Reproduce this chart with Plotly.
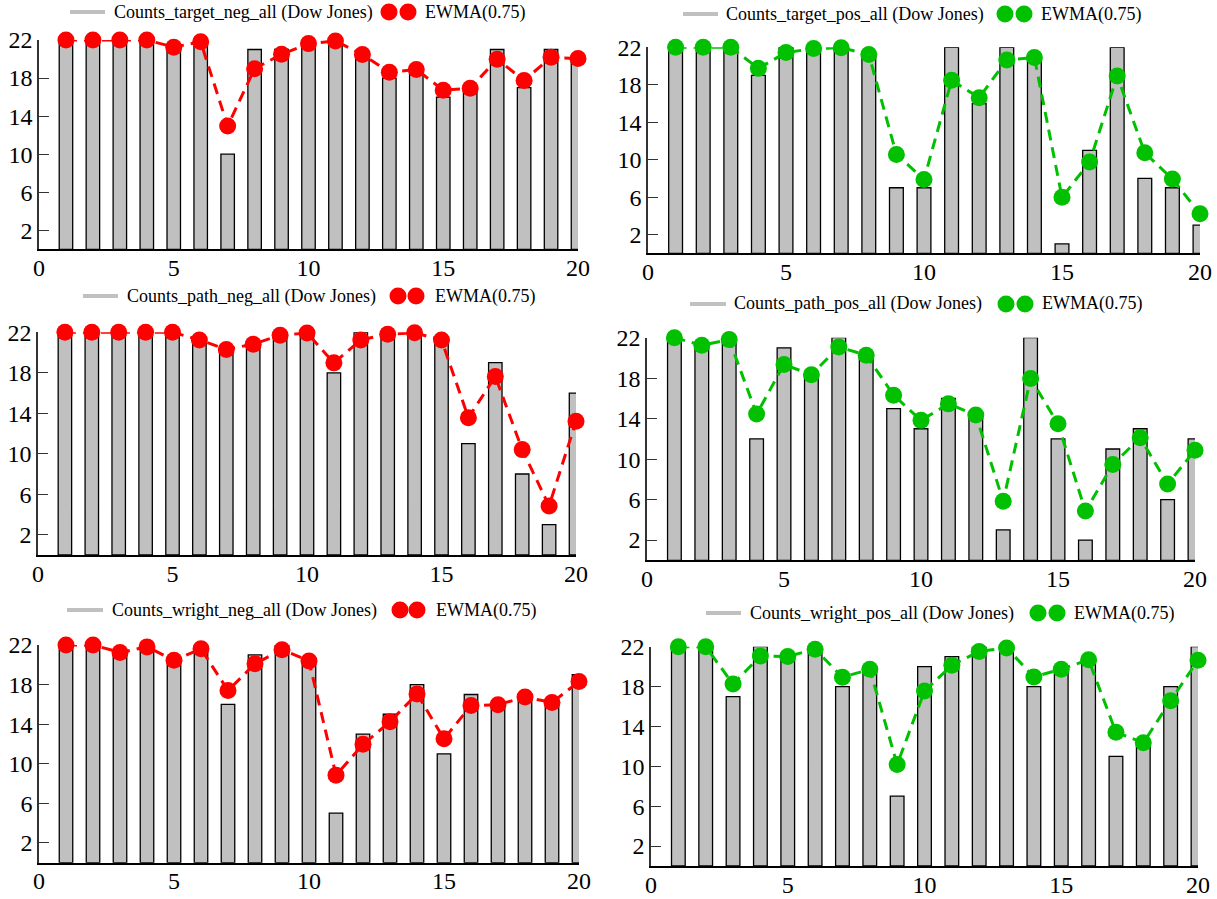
import plotly.graph_objects as go

W, H = 1217, 899

x_vals = list(range(1, 21))
x_ticks = [0, 5, 10, 15, 20]
y_ticks = [2, 6, 10, 14, 18, 22]

names = [
    "Counts_target_neg_all (Dow Jones)",
    "Counts_target_pos_all (Dow Jones)",
    "Counts_path_neg_all (Dow Jones)",
    "Counts_path_pos_all (Dow Jones)",
    "Counts_wright_neg_all (Dow Jones)",
    "Counts_wright_pos_all (Dow Jones)",
]
ewma_label = "EWMA(0.75)"

target_neg = [22, 22, 22, 22, 21, 22, 10, 21, 21, 22, 22, 20, 18, 19, 16, 17, 21, 17, 21, 20]
target_neg_ewma = [22.0, 22.0, 22.0, 22.0, 21.25, 21.81, 12.95, 18.99, 20.5, 21.62,
                   21.9, 20.48, 18.62, 18.9, 16.73, 16.93, 19.98, 17.75, 20.19, 20.05]

target_pos = [22, 22, 22, 19, 22, 22, 22, 21, 7, 7, 22, 16, 22, 21, 1, 11, 22, 8, 7, 3]
target_pos_ewma = [22.0, 22.0, 22.0, 19.75, 21.44, 21.86, 21.96, 21.24, 10.56, 7.89,
                   18.47, 16.62, 20.65, 20.91, 5.98, 9.74, 18.94, 10.73, 7.93, 4.23]

path_neg = [22, 22, 22, 22, 22, 21, 20, 21, 22, 22, 18, 22, 22, 22, 21, 11, 19, 8, 3, 16]
path_neg_ewma = [22.0, 22.0, 22.0, 22.0, 22.0, 21.25, 20.31, 20.83, 21.71, 21.93,
                 18.98, 21.25, 21.81, 21.95, 21.24, 13.56, 17.64, 10.41, 4.85, 13.21]

path_pos = [22, 21, 22, 12, 21, 18, 22, 20, 15, 13, 16, 14, 3, 22, 12, 2, 11, 13, 6, 12]
path_pos_ewma = [22.0, 21.25, 21.81, 14.45, 19.36, 18.34, 21.09, 20.27, 16.32, 13.83,
                 15.46, 14.36, 5.84, 17.96, 13.49, 4.87, 9.47, 12.12, 7.53, 10.88]

wright_neg = [22, 22, 21, 22, 20, 22, 16, 21, 22, 20, 5, 13, 15, 18, 11, 17, 16, 17, 16, 19]
wright_neg_ewma = [22.0, 22.0, 21.25, 21.81, 20.45, 21.61, 17.4, 20.1, 21.53, 20.38,
                   8.85, 11.96, 14.24, 17.06, 12.52, 15.88, 15.97, 16.74, 16.19, 18.3]

wright_pos = [22, 22, 17, 22, 21, 22, 18, 20, 7, 20, 21, 22, 22, 18, 20, 21, 11, 12, 18, 22]
wright_pos_ewma = [22.0, 22.0, 18.25, 21.06, 21.02, 21.75, 18.94, 19.73, 10.18, 17.55,
                   20.14, 21.53, 21.88, 18.97, 19.74, 20.69, 13.42, 12.36, 16.59, 20.65]

RED = "#ff0000"
GREEN = "#00c000"
BAR_FILL = "#c0c0c0"
FONT = "Liberation Serif, Times New Roman, Times, serif"

series = [
    (target_neg, target_neg_ewma, RED),
    (target_pos, target_pos_ewma, GREEN),
    (path_neg, path_neg_ewma, RED),
    (path_pos, path_pos_ewma, GREEN),
    (wright_neg, wright_neg_ewma, RED),
    (wright_pos, wright_pos_ewma, GREEN),
]

# pixel boxes of plot areas: (x_left, x_right, y_top(=22), y_bottom(=0))
boxes = [
    (39, 578, 40, 249.3),
    (648, 1200, 47.3, 253.3),
    (38, 576, 332.3, 555),
    (647, 1195, 337.7, 560.3),
    (39, 579, 645, 862.7),
    (651, 1198, 646.7, 866),
]
# legend layout in pixels: (line_x0, line_x1, y, text_x, circle1_x, circle2_x, ewma_text_x)
legends = [
    (70, 105, 12, 112, 389, 408, 423),
    (683, 718, 14, 724, 1005, 1024, 1039),
    (83, 118, 296, 125, 398, 416, 433),
    (690, 726, 304, 732, 1006, 1025, 1040),
    (67, 103, 610, 110, 400, 417, 434),
    (706, 741, 613, 748, 1038, 1057, 1072),
]

fig = go.Figure()
layout = dict(
    width=W, height=H,
    margin=dict(l=0, r=0, t=0, b=0, autoexpand=False),
    paper_bgcolor="white", plot_bgcolor="white",
    showlegend=False,
    font=dict(family=FONT, color="black"),
)
shapes = []
annotations = []

for i, ((bars, ewma, col), box, lg) in enumerate(zip(series, boxes, legends)):
    n = i + 1
    xa = "x" if n == 1 else f"x{n}"
    ya = "y" if n == 1 else f"y{n}"
    fig.add_trace(go.Bar(
        x=x_vals, y=bars, width=0.5, xaxis=xa, yaxis=ya,
        marker=dict(color=BAR_FILL, line=dict(color="black", width=1.3)),
    ))
    fig.add_trace(go.Scatter(
        x=x_vals, y=ewma, mode="lines+markers", xaxis=xa, yaxis=ya,
        line=dict(color=col, width=3, dash="11px,7px"),
        marker=dict(size=17, color=col),
        cliponaxis=False,
    ))
    xl, xr, yt, yb = box
    layout["xaxis" if n == 1 else f"xaxis{n}"] = dict(
        domain=[xl / W, xr / W], anchor=ya, range=[0, 20], automargin=False,
        tickvals=x_ticks, ticks="", showgrid=False, zeroline=False,
        showline=True, linecolor="black", linewidth=1.5, ticklabelstandoff=-4,
        tickfont=dict(family=FONT, size=24, color="black"),
    )
    layout["yaxis" if n == 1 else f"yaxis{n}"] = dict(
        domain=[1 - yb / H, 1 - yt / H], anchor=xa, range=[0, 22], automargin=False,
        tickvals=y_ticks, ticks="inside", ticklen=10, tickwidth=1.3, tickcolor="#333333",
        showgrid=False, zeroline=False,
        showline=True, linecolor="#333333", linewidth=1.5,
        tickfont=dict(family=FONT, size=24, color="black"),
    )
    lx0, lx1, ly, tx, c1, c2, ex = lg
    yp = 1 - ly / H
    shapes.append(dict(type="line", xref="paper", yref="paper",
                       x0=lx0 / W, x1=lx1 / W, y0=yp, y1=yp,
                       line=dict(color=BAR_FILL, width=4)))
    for cx in (c1, c2):
        shapes.append(dict(type="circle", xref="paper", yref="paper",
                           xsizemode="pixel", ysizemode="pixel",
                           xanchor=cx / W, yanchor=yp,
                           x0=-8.5, x1=8.5, y0=-8.5, y1=8.5,
                           fillcolor=col, line=dict(color=col, width=0)))
    annotations.append(dict(xref="paper", yref="paper", x=tx / W, y=yp,
                            xanchor="left", yanchor="middle", showarrow=False,
                            text=names[i], font=dict(family=FONT, size=18, color="black")))
    annotations.append(dict(xref="paper", yref="paper", x=ex / W, y=yp,
                            xanchor="left", yanchor="middle", showarrow=False,
                            text=ewma_label, font=dict(family=FONT, size=18, color="black")))

layout["shapes"] = shapes
layout["annotations"] = annotations
fig.update_layout(**layout)
fig.write_html("out.html", config={"displayModeBar": False},
               post_script="document.body.style.margin='0';")
